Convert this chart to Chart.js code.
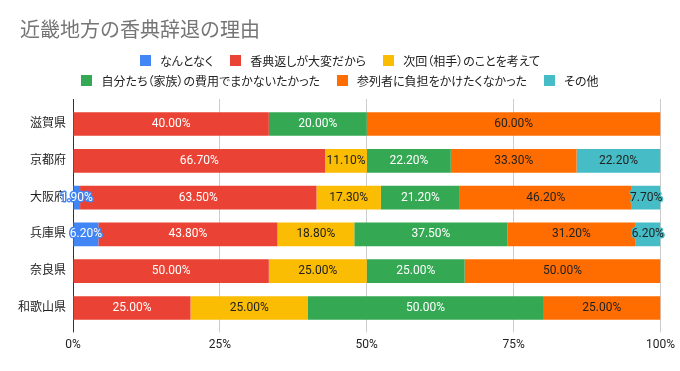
<!DOCTYPE html>
<html>
<head>
<meta charset="utf-8">
<script src="https://cdn.jsdelivr.net/npm/chart.js@4.4.0/dist/chart.umd.min.js"></script>
<style>
html, body { margin: 0; padding: 0; background: #fff; }
#wrap { position: relative; width: 680px; height: 371px; font-family: Roboto, "Noto Sans CJK JP", sans-serif; }
#title { position: absolute; left: 20px; top: 19px; font-size: 20px; line-height: 22px; color: #757575; }
#legend { position: absolute; left: 0; top: 51px; width: 680px; font-size: 12px; color: #222; font-feature-settings: "palt"; }
.row { display: flex; justify-content: center; align-items: center; height: 19.5px; }
.item { display: flex; align-items: center; margin: 0 8.5px; white-space: nowrap; }
.box { width: 11px; height: 11px; margin-right: 9px; }
canvas { position: absolute; left: 0; top: 0; }
</style>
</head>
<body>
<div id="wrap">
  <canvas id="myChart" width="680" height="371"></canvas>
  <div id="title">近畿地方の香典辞退の理由</div>
  <div id="legend"></div>
</div>
<script>
// categories and series (values as shown in the labels, multiple answers)
const prefectures = ['滋賀県', '京都府', '大阪府', '兵庫県', '奈良県', '和歌山県'];
const seriesNames = [
    'なんとなく',
    '香典返しが大変だから',
    '次回（相手）のことを考えて',
    '自分たち（家族）の費用でまかないたかった',
    '参列者に負担をかけたくなかった',
    'その他'
];
const nantonaku   = [0, 0, 1.9, 6.2, 0, 0];
const henreiTaihen = [40, 66.7, 63.5, 43.8, 50, 25];
const jikai       = [0, 11.1, 17.3, 18.8, 25, 25];
const jibunTachi  = [20, 22.2, 21.2, 37.5, 25, 50];
const sanretsusha = [60, 33.3, 46.2, 31.2, 50, 25];
const sonota      = [0, 22.2, 7.7, 6.2, 0, 0];
const xTicks = [0, 25, 50, 75, 100];

const seriesValues = [nantonaku, henreiTaihen, jikai, jibunTachi, sanretsusha, sonota];
const colors = ['#4285F4', '#EA4335', '#FBBC04', '#34A853', '#FF6D01', '#46BDC6'];
const labelColors = ['#fff', '#fff', '#222', '#fff', '#222', '#222'];
const font = 'Roboto, "Noto Sans CJK JP", sans-serif';

// row totals, for the 100% stack
const rowSums = prefectures.map((p, i) => seriesValues.reduce((s, arr) => s + arr[i], 0));

// html legend, two rows like the original
const legendEl = document.getElementById('legend');
[[0, 1, 2], [3, 4, 5]].forEach(idxs => {
    const row = document.createElement('div');
    row.className = 'row';
    row.innerHTML = idxs.map(i => `
        <div class="item"><div class="box" style="background:${colors[i]}"></div>${seriesNames[i]}</div>
    `).join('');
    legendEl.appendChild(row);
});

// draw value labels in the middle of each segment
const segmentLabels = {
    id: 'segmentLabels',
    afterDatasetsDraw(chart) {
        const ctx = chart.ctx;
        ctx.save();
        ctx.font = '12px ' + font;
        ctx.textAlign = 'center';
        ctx.textBaseline = 'middle';
        ctx.lineJoin = 'round';
        chart.data.datasets.forEach((ds, di) => {
            const meta = chart.getDatasetMeta(di);
            meta.data.forEach((bar, i) => {
                const raw = ds.rawValues[i];
                if (!raw) return;
                const text = raw.toFixed(2) + '%';
                const cx = (bar.x + bar.base) / 2;
                const segW = Math.abs(bar.x - bar.base);
                const tw = ctx.measureText(text).width;
                if (tw + 2 > segW) {
                    ctx.strokeStyle = colors[di];
                    ctx.lineWidth = 3;
                    ctx.strokeText(text, cx, bar.y);
                }
                ctx.fillStyle = labelColors[di];
                ctx.fillText(text, cx, bar.y);
            });
        });
        ctx.restore();
    }
};

const gridColor = c => (c.tick && c.tick.value === 0) ? '#333' : '#ccc';

new Chart(document.getElementById('myChart'), {
    type: 'bar',
    data: {
        labels: prefectures,
        datasets: seriesValues.map((vals, si) => ({
            label: seriesNames[si],
            data: vals.map((v, i) => v / rowSums[i] * 100),
            rawValues: vals,
            backgroundColor: colors[si],
            borderWidth: 0,
            categoryPercentage: 1,
            barPercentage: 0.644
        }))
    },
    options: {
        indexAxis: 'y',
        responsive: false,
        animation: false,
        layout: { padding: { left: 0, right: 19, top: 99, bottom: 14.6 } },
        plugins: {
            legend: { display: false },
            title: { display: false },
            tooltip: { enabled: false }
        },
        scales: {
            x: {
                stacked: true,
                min: 0,
                max: 100,
                afterBuildTicks: s => { s.ticks = xTicks.map(v => ({ value: v })); },
                afterFit: s => { s.height = 30; },
                ticks: {
                    padding: 5,
                    color: '#222',
                    font: { family: font, size: 12 },
                    callback: v => v + '%'
                },
                grid: { color: gridColor, tickLength: 6 },
                border: { display: false }
            },
            x2: {
                position: 'top',
                min: 0,
                max: 100,
                afterBuildTicks: s => { s.ticks = xTicks.map(v => ({ value: v })); },
                afterFit: s => { s.height = 6.6; },
                ticks: { display: false },
                grid: { color: gridColor, tickLength: 6.6 },
                border: { display: false }
            },
            y: {
                stacked: true,
                afterFit: s => { s.width = 73; },
                ticks: {
                    padding: 7,
                    color: '#222',
                    font: { family: font, size: 12 }
                },
                grid: { display: false, drawTicks: false },
                border: { display: false }
            }
        }
    },
    plugins: [segmentLabels]
});
</script>
</body>
</html>
